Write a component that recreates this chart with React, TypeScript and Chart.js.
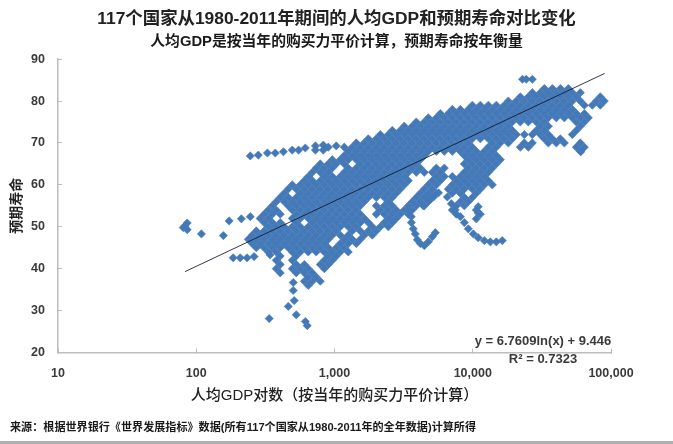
import React, { useEffect, useRef } from "react";
import { Chart, registerables } from "chart.js";

Chart.register(...registerables);

const titleText = "117个国家从1980-2011年期间的人均GDP和预期寿命对比变化";
const subtitleText = "人均GDP是按当年的购买力平价计算，预期寿命按年衡量";
const xAxisTitle = "人均GDP对数（按当年的购买力平价计算）";
const yAxisTitle = "预期寿命";
const footerText = "来源：根据世界银行《世界发展指标》数据(所有117个国家从1980-2011年的全年数据)计算所得";
const equationText = "y = 6.7609ln(x) + 9.446";
const rSquaredText = "R² = 0.7323";
const xTickValues = [10, 100, 1000, 10000, 100000];

// GDP per capita readings at each whole year of life expectancy
const life83 = [32941,37637,43000,49131];
const life82 = [26973,30818,35211,40230,45964,52516,60001];
const life81 = [22086,25234,28832,32941,37637,43000,49131,56134,83700];
const life80 = [18085,20663,23608,26973,30818,35211,40230,45964,52516,60001,78300,89400];
const life79 = [9929,11344,12961,14809,16919,19331,22086,25234,28832,32941,37637,43000,49131,64135,73276,83700];
const life78 = [7115,8130,9288,10613,12126,13854,15829,18085,20663,23608,26973,30818,35211,40230,45964,52516];
const life77 = [5826,6657,7605,8690,9929,11344,12961,14809,16919,19331,22086,25234,28832,32941,37637,43000,49131,56134,64135];
const life76 = [4770,5451,6228,7115,8130,9288,10613,12126,13854,15829,18085,20663,23608,26973,30818,35211,40230,45964,52516,60001,68553];
const life75 = [3906,4463,5099,5826,6657,7605,8690,9929,11344,12961,14809,16919,19331,22086,25234,28832,32941,56134,64135];
const life74 = [3198,3654,4175,4770,5451,6228,7115,8130,9288,10613,12126,13854,15829,18085,30818,35211,60001];
const life73 = [2619,2992,3419,3906,4463,5099,5826,6657,7605,8690,9929,11344,12961,14809,16919,19331,28832,32941,56134];
const life72 = [2144,2450,2799,3198,3654,4175,4770,5451,6228,7115,8130,9288,10613,12126,13854,15829,18085,20663,23608,26973,30818,35211,52516];
const life71 = [1756,2006,2292,2619,2992,3419,3906,4463,5099,5826,6657,7605,8690,9929,11344,12961,14809,16919,19331,32941,37637,43000];
const life70 = [1438,1643,1877,2144,2450,2799,3198,3654,4175,4770,5451,6228,7115,8130,9288,13854,15829,18085,23608,26973,35211,40230,45964,60001];
const life69 = [1177,1345,1537,1756,2006,2292,2619,2992,3419,3906,4463,5099,5826,6657,7605,8690,9929,12961,14809,22086,25234,56134,64135];
const life68 = [1258,1438,1643,1877,2144,2450,2799,3198,3654,4175,4770,5451,6228,7115,8130,9288,10613,12126,13854,60001];
const life67 = [1177,1345,1537,1756,2006,2292,2619,2992,3419,3906,4463,8690,9929,11344,12961,14809];
const life66 = [964,1101,1258,1438,1643,1877,2144,2450,2799,3198,3654,4175,9288,10613,12126,13854,15829];
const life65 = [789,902,1030,1177,1537,1756,2006,2292,2619,2992,3419,3906,8690,9929,11344,12961,14809];
const life64 = [738,844,964,1258,1438,1643,1877,2144,2450,2799,3198,3654,4175,5451,6228,9288,10613,12126,13854];
const life63 = [691,789,902,1177,1345,1537,1756,2006,2292,2619,2992,3419,3906,4463,5099,5826,8690,9929,11344,12961];
const life62 = [646,844,964,1101,1258,1438,1643,1877,2144,2450,2799,3198,5451,6228,7115,8130,9288,10613,12126];
const life61 = [605,691,789,902,1030,1177,1345,1537,1756,2006,2292,2619,2992,3419,5099,5826,7605,8690,9929,11344,12961];
const life60 = [495,566,646,738,844,964,1101,1258,1438,1643,1877,2144,2450,2799,3198,4770,5451,7115,8130,9288,10613,12126,13854];
const life59 = [463,529,605,691,789,902,1030,1177,1345,1537,1756,2006,2292,2619,2992,4463,5099,6657,7605,8690,9929,11344];
const life58 = [433,566,646,738,844,964,1101,1258,1438,1643,1877,2144,2450,2799,4175,4770,5451,7115,8130,10613];
const life57 = [405,463,529,605,691,789,902,1030,1177,1345,1537,1756,2006,2292,2619,3906,4463,5099,8690,9929];
const life56 = [379,433,495,566,646,738,844,964,1101,1258,1438,1643,2450,3654,4175,4770,8130,9288];
const life55 = [355,463,529,605,691,789,902,1030,1177,1345,1537,2006,2292,2619,3419,3906,4463,7605,8690];
const life54 = [332,379,495,566,646,738,844,964,1101,1258,1438,2144,2450,2799,3198,3654,7115,10613];
const life53 = [310,355,405,529,605,691,789,902,1030,1177,1345,1537,2006,2292,2619,2992,3419,7605,11344];
const life52 = [290,332,495,566,646,738,844,964,1101,1258,1438,1643,2450,2799];
const life51 = [310,355,405,529,691,789,902,1030,1177,1345,1537,1756,2292,2619];
const life50 = [332,379,433,495,566,646,738,844,964,1101,1258,1438,1877,2144,2450];
const life49 = [272,310,355,405,463,529,605,691,789,902,1030,1345,1537,1756,2006];
const life48 = [254,290,332,379,433,495,566,646,738,844,964,1101,1258,1643,1877];
const life47 = [238,272,310,355,405,463,529,605,691,789,902,1177,1345,1537];
const life46 = [254,290,332,379,433,495,566,646,738,844,1101,1258,1438];
const life45 = [272,310,355,405,463,529,605,691,789,902,1030,1177];
const life44 = [332,379,495,566,646,738,844,964,1101,1258];
const life43 = [405,529,902,1030];
const life42 = [379,495,844,964];
const life41 = [405,529,605,789,902];
const life40 = [379,495,566,646,844];
const life39 = [405,529,605,691];
const life38 = [646,738];
const life37 = [605,691,789];
const life36 = [646];

const yearRows: [number, number[]][] = [
  [83, life83],[82, life82],[81, life81],[80, life80],[79, life79],[78, life78],[77, life77],[76, life76],
  [75, life75],[74, life74],[73, life73],[72, life72],[71, life71],[70, life70],[69, life69],[68, life68],
  [67, life67],[66, life66],[65, life65],[64, life64],[63, life63],[62, life62],[61, life61],[60, life60],
  [59, life59],[58, life58],[57, life57],[56, life56],[55, life55],[54, life54],[53, life53],[52, life52],
  [51, life51],[50, life50],[49, life49],[48, life48],[47, life47],[46, life46],[45, life45],[44, life44],
  [43, life43],[42, life42],[41, life41],[40, life40],[39, life39],[38, life38],[37, life37],[36, life36],
];

// separately visible country paths and stray readings: [gdp, life expectancy]
const upperPath: [number, number][] = [[246,66.9],[281,67.1],[327,67.6],[373,67.6],[427,67.9],[495,68.3],[550,68.3],[615,68.8],[728,69.3],[830,69.5],[902,69.0],[728,68.3],[830,68.3],[1030,69.3]];
const sagPathA: [number, number][] = [[3485,53.8],[3594,52.4],[3594,51.0],[3714,49.5],[3840,48.3],[3969,46.9],[4175,46.0],[4463,45.5],[4770,46.4],[5099,47.6],[5360,48.6]];
const sagPathB: [number, number][] = [[6550,57.1],[7000,55.5],[7480,54.0],[8130,52.4],[8690,51.0],[9288,49.5],[10100,48.3],[10950,47.4],[12126,46.7],[13400,46.4],[14809,46.4],[16350,46.7]];
const crossPath: [number, number][] = [[4390,55.0],[4770,56.2],[5200,57.1],[5650,58.1],[10950,54.8],[10950,53.3],[10613,51.9]];
const lowPath: [number, number][] = [[185,42.6],[208,42.6],[233,42.6],[262,42.9],[342,43.3]];
const strayPoints: [number, number][] = [[173,51.4],[212,51.9],[246,52.4],[86,50.9],[83,50.2],[80.5,49.8],[86,49.3],[109,48.3],[157,47.9],[503,36.7],[503,34.8],[511,32.4],[463,31.0],[529,29.0],[615,27.4],[635,26.4],[337,28.1],[22900,85.2],[24380,85.2],[26973,85.2],[60500,67.9]];
const trendLine: [number, number][] = [[83,39.3],[90000,86.6]];

export default function App() {
  const ref = useRef<HTMLCanvasElement>(null);
  useEffect(() => {
    document.body.style.margin = "0";
    document.body.style.background = "#fff";
    const points = [
      ...yearRows.flatMap(([life, gdps]) => gdps.map((g) => ({ x: g, y: life }))),
      ...[...upperPath, ...sagPathA, ...sagPathB, ...crossPath, ...lowPath, ...strayPoints].map(([x, y]) => ({ x, y })),
    ];
    const textColor = "#3a3a3a";
    const cjk = '"Liberation Sans", "Noto Sans CJK SC", sans-serif';
    const notes = {
      id: "notes",
      afterDraw(c: Chart) {
        const g = c.ctx;
        g.save();
        g.fillStyle = textColor;
        g.textAlign = "center";
        g.textBaseline = "middle";
        g.font = `bold 13px ${cjk}`;
        g.fillText(equationText, 543, 341);
        g.fillText(rSquaredText, 543, 359);
        g.textAlign = "left";
        g.fillStyle = "#1a1a1a";
        g.font = `bold 11.1px ${cjk}`;
        g.fillText(footerText, 10, 428);
        g.restore();
      },
    };
    const chart = new Chart(ref.current!, {
      type: "scatter",
      data: {
        datasets: [
          {
            data: trendLine.map(([x, y]) => ({ x, y })),
            showLine: true,
            borderColor: "rgba(15,20,40,0.85)",
            borderWidth: 1,
            pointRadius: 0,
            order: 0,
          },
          {
            data: points,
            backgroundColor: "#4479B8",
            borderColor: "#4479B8",
            borderWidth: 0.6,
            pointStyle: "rectRot",
            pointRadius: 4.1,
            order: 1,
          },
        ],
      },
      options: {
        animation: false,
        responsive: false,
        layout: { padding: 0 },
        plugins: {
          legend: { display: false },
          tooltip: { enabled: false },
          title: {
            display: true,
            text: titleText,
            color: "#222",
            font: { size: 17.4, weight: "bold", family: cjk },
            padding: { top: 9, bottom: 3 },
          },
          subtitle: {
            display: true,
            text: subtitleText,
            color: "#1a1a1a",
            font: { size: 14.8, weight: "bold", family: cjk },
            padding: { top: 0, bottom: 8.5 },
          },
        },
        scales: {
          x: {
            type: "logarithmic",
            min: 10,
            max: 100000,
            afterBuildTicks(s: any) {
              s.ticks = xTickValues.map((value) => ({ value }));
            },
            afterFit(s: any) {
              s.height = 91.5;
            },
            border: { color: "#bdbdbd", width: 1.5 },
            grid: { drawOnChartArea: false, color: "#bdbdbd", tickLength: -4 },
            ticks: {
              autoSkip: false,
              maxRotation: 0,
              padding: 18,
              color: textColor,
              font: { size: 12.5, weight: "bold", family: cjk },
              callback: (v: any) => Number(v).toLocaleString("en-US"),
            },
            title: {
              display: true,
              text: xAxisTitle,
              color: "#222",
              font: { size: 15, weight: "500", family: cjk },
              padding: { top: 8, bottom: 39 },
            },
          },
          y: {
            min: 20,
            max: 90,
            afterFit(s: any) {
              s.width = 58;
            },
            border: { color: "#bdbdbd", width: 1.5 },
            grid: { drawOnChartArea: false, color: "#bdbdbd", tickLength: -4 },
            ticks: {
              stepSize: 10,
              padding: 17,
              color: textColor,
              font: { size: 12.5, weight: "bold", family: cjk },
            },
            title: {
              display: true,
              text: yAxisTitle,
              color: "#222",
              font: { size: 14, weight: "bold", family: cjk },
              padding: { top: 9, bottom: 0 },
            },
          },
          rightMargin: {
            position: "right",
            min: 20,
            max: 90,
            afterFit(s: any) {
              s.width = 62;
            },
            grid: { display: false },
            border: { display: false },
            ticks: { display: false },
          },
        },
      },
      plugins: [notes],
    } as any);
    return () => chart.destroy();
  }, []);
  return (
    <div style={{ position: "fixed", left: 0, top: 0, width: 673, height: 444, overflow: "hidden", background: "#fff" }}>
      <canvas ref={ref} width={673} height={444} style={{ display: "block", filter: "blur(0.45px)" }} />
      <div style={{ position: "absolute", left: 0, top: 441, width: 673, height: 3, background: "#b0b0b0" }} />
    </div>
  );
}
